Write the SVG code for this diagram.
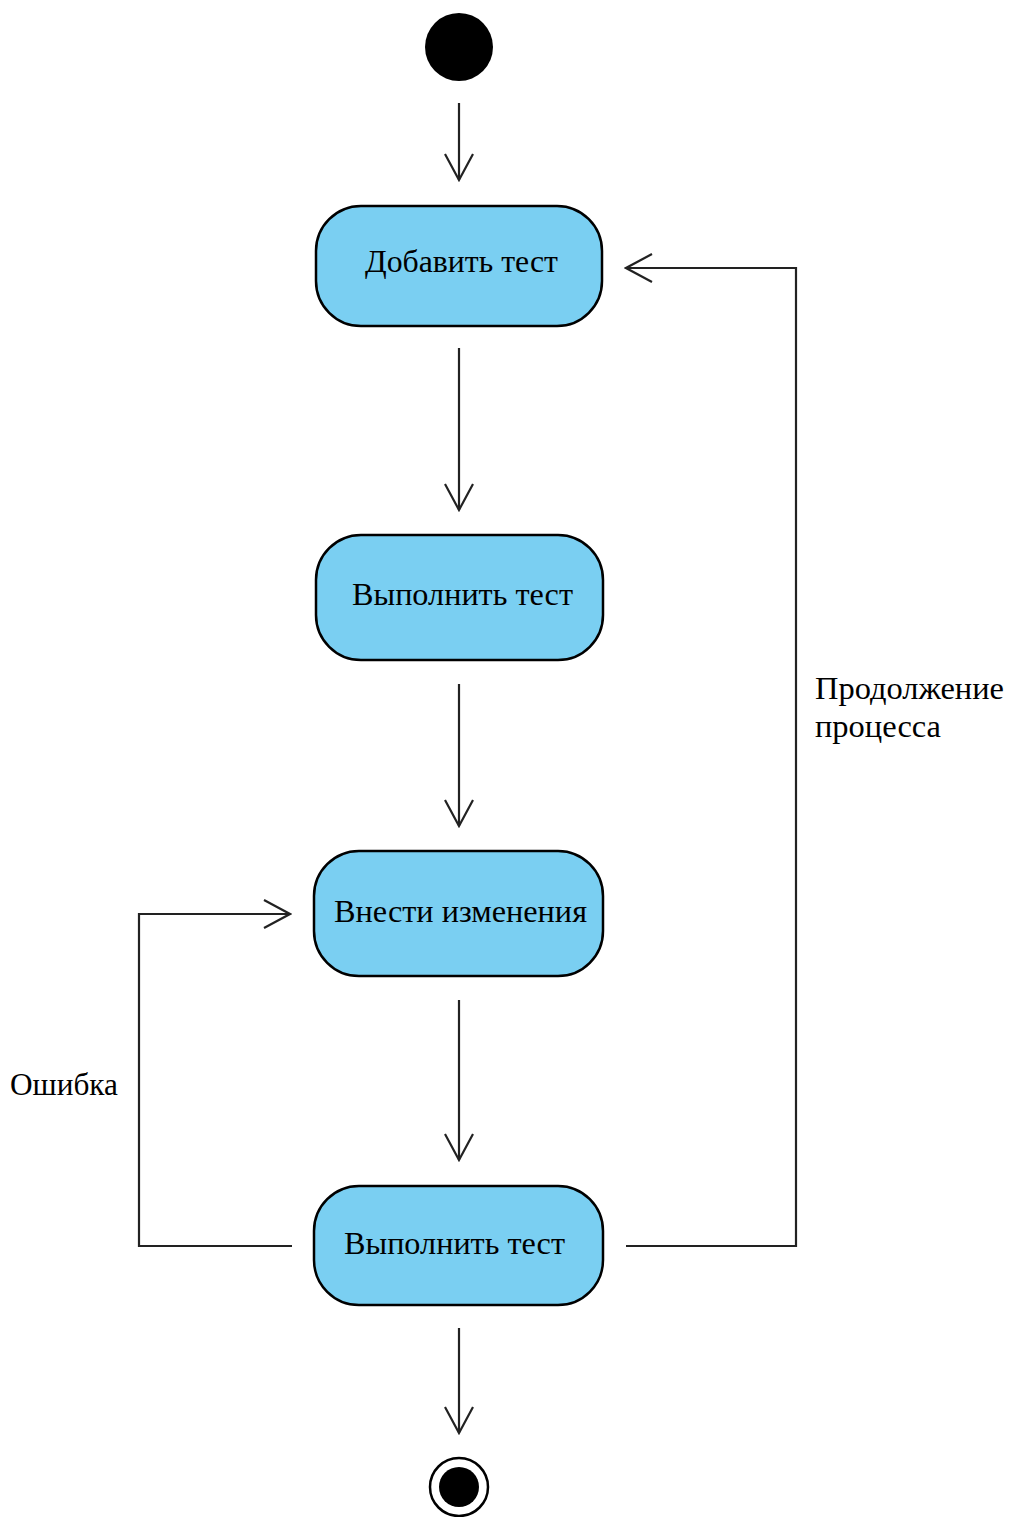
<svg xmlns="http://www.w3.org/2000/svg" width="1011" height="1517" viewBox="0 0 1011 1517">
  <style>
    .act { fill: #7ACFF2; stroke: #000; stroke-width: 2.5; }
    .lbl { font-family: "Liberation Serif", "Times New Roman", serif; font-size: 31px; fill: #000; }
    .edge { fill: none; stroke: #222; stroke-width: 2.2; }
  </style>
  <defs>
    <marker id="open" viewBox="-28 -16 30 32" markerWidth="30" markerHeight="32" refX="0" refY="0" orient="auto" markerUnits="userSpaceOnUse">
      <path d="M-26,-14 L0,0 L-26,14" fill="none" stroke="#222" stroke-width="2.2"/>
    </marker>
  </defs>
  <rect width="1011" height="1517" fill="#fff"/>

  <g id="connectors">
    <line class="edge" x1="459" y1="103" x2="459" y2="180" marker-end="url(#open)"/>
    <line class="edge" x1="459" y1="348" x2="459" y2="510" marker-end="url(#open)"/>
    <line class="edge" x1="459" y1="684" x2="459" y2="826" marker-end="url(#open)"/>
    <line class="edge" x1="459" y1="1000" x2="459" y2="1160" marker-end="url(#open)"/>
    <line class="edge" x1="459" y1="1328" x2="459" y2="1433" marker-end="url(#open)"/>
    <polyline class="edge" points="292,1246 139,1246 139,914 290,914" marker-end="url(#open)"/>
    <polyline class="edge" points="626,1246 796,1246 796,268 626,268" marker-end="url(#open)"/>
    <text class="lbl" x="10" y="1095" textLength="108" lengthAdjust="spacingAndGlyphs">Ошибка</text>
    <text class="lbl" x="815" y="699" textLength="189" lengthAdjust="spacingAndGlyphs">Продолжение</text>
    <text class="lbl" x="815" y="737" textLength="126" lengthAdjust="spacingAndGlyphs">процесса</text>
  </g>

  <g id="start">
    <circle cx="459" cy="47" r="34" fill="#000"/>
  </g>

  <g id="add-test">
    <rect class="act" x="316" y="206" width="286" height="120" rx="45" ry="45"/>
    <text class="lbl" x="365" y="272" textLength="193" lengthAdjust="spacingAndGlyphs">Добавить тест</text>
  </g>

  <g id="run-test-1">
    <rect class="act" x="316" y="535" width="287" height="125" rx="45" ry="45"/>
    <text class="lbl" x="352" y="605" textLength="221" lengthAdjust="spacingAndGlyphs">Выполнить тест</text>
  </g>

  <g id="make-changes">
    <rect class="act" x="314" y="851" width="289" height="125" rx="45" ry="45"/>
    <text class="lbl" x="334" y="922" textLength="253" lengthAdjust="spacingAndGlyphs">Внести изменения</text>
  </g>

  <g id="run-test-2">
    <rect class="act" x="314" y="1186" width="289" height="119" rx="45" ry="45"/>
    <text class="lbl" x="344" y="1254" textLength="221" lengthAdjust="spacingAndGlyphs">Выполнить тест</text>
  </g>

  <g id="end">
    <circle cx="459" cy="1487" r="29" fill="#fff" stroke="#000" stroke-width="2.5"/>
    <circle cx="459" cy="1487" r="20" fill="#000"/>
  </g>
</svg>
